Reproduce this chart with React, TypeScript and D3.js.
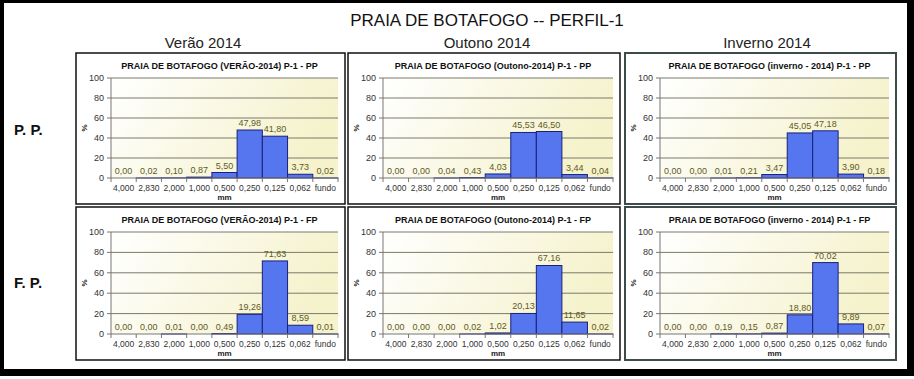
import React from "react";
import * as d3 from "d3";

const categories = ["4,000", "2,830", "2,000", "1,000", "0,500", "0,250", "0,125", "0,062", "fundo"];
const seasons = ["Verão 2014", "Outono 2014", "Inverno 2014"];
const rowLabels = ["P. P.", "F. P."];
const mainTitle = "PRAIA DE BOTAFOGO -- PERFIL-1";
const panelTitles = [
  "PRAIA DE BOTAFOGO (VERÃO-2014) P-1 - PP",
  "PRAIA DE BOTAFOGO (Outono-2014) P-1 - PP",
  "PRAIA DE BOTAFOGO (inverno - 2014) P-1 - PP",
  "PRAIA DE BOTAFOGO (VERÃO-2014) P-1 - FP",
  "PRAIA DE BOTAFOGO (Outono-2014) P-1 - FP",
  "PRAIA DE BOTAFOGO (inverno - 2014) P-1 - FP",
];
const veraoPP = [0.0, 0.02, 0.1, 0.87, 5.5, 47.98, 41.8, 3.73, 0.02];
const outonoPP = [0.0, 0.0, 0.04, 0.43, 4.03, 45.53, 46.5, 3.44, 0.04];
const invernoPP = [0.0, 0.0, 0.01, 0.21, 3.47, 45.05, 47.18, 3.9, 0.18];
const veraoFP = [0.0, 0.0, 0.01, 0.0, 0.49, 19.26, 71.63, 8.59, 0.01];
const outonoFP = [0.0, 0.0, 0.0, 0.02, 1.02, 20.13, 67.16, 11.65, 0.02];
const invernoFP = [0.0, 0.0, 0.19, 0.15, 0.87, 18.8, 70.02, 9.89, 0.07];
const panelValues = [veraoPP, outonoPP, invernoPP, veraoFP, outonoFP, invernoFP];
const yTicks = [0, 20, 40, 60, 80, 100];

const W = 914;
const H = 379;
const FONT = "'Liberation Sans', Arial, sans-serif";
const colX: [number, number][] = [[76, 345], [348, 620], [625, 896]];
const rowY: [number, number][] = [[53, 204], [207, 360]];
const M = { left: 35, right: 7, top: 25, bottom: 26 };
const fmt = (v: number) => d3.format(".2f")(v).replace(".", ",");

function Panel({ idx }: { idx: number }) {
  const col = idx % 3;
  const row = Math.floor(idx / 3);
  const [x0, x1] = colX[col];
  const [y0, y1] = rowY[row];
  const values = panelValues[idx];
  const px0 = x0 + M.left;
  const px1 = x1 - M.right;
  const py0 = y0 + M.top;
  const py1 = y1 - M.bottom;
  const x = d3.scaleBand<string>().domain(categories).range([px0, px1]).padding(0);
  const y = d3.scaleLinear().domain([0, 100]).range([py1, py0]);
  const slate = col === 2;
  return (
    <g>
      <rect x={x0} y={y0} width={x1 - x0} height={y1 - y0} fill="#fff"
        stroke={slate ? "#3e4b4b" : "#111"} strokeWidth={slate ? 2 : 1.5} />
      <text x={(x0 + x1) / 2 + 9} y={y0 + 16} textAnchor="middle" fontFamily={FONT}
        fontWeight="bold" fontSize={9} fill="#111">{panelTitles[idx]}</text>
      <rect x={px0} y={py0} width={px1 - px0} height={py1 - py0} fill="url(#plotbg)" />
      {yTicks.slice(1).map((t) => (
        <line key={t} x1={px0} x2={px1} y1={y(t)} y2={y(t)} stroke="#7a7a6a" strokeWidth={1} />
      ))}
      {values.map((v, i) => (
        <rect key={i} x={x(categories[i])!} y={y(v)} width={x.bandwidth()} height={py1 - y(v)}
          fill="#5676f0" stroke="#1a2078" strokeWidth={1} />
      ))}
      {values.map((v, i) => (
        <text key={"l" + i} x={x(categories[i])! + x.bandwidth() / 2} y={y(v) - 4}
          textAnchor="middle" fontFamily={FONT} fontSize={9} fill="#5f5a25">{fmt(v)}</text>
      ))}
      <line x1={px0} x2={px0} y1={py0} y2={py1} stroke="#777" />
      <line x1={px0} x2={px1} y1={py1} y2={py1} stroke="#777" />
      {yTicks.map((t) => (
        <g key={"yt" + t}>
          <line x1={px0 - 4} x2={px0} y1={y(t)} y2={y(t)} stroke="#777" />
          <text x={px0 - 7} y={y(t) + 3} textAnchor="end" fontFamily={FONT} fontSize={9} fill="#333">{t}</text>
        </g>
      ))}
      {categories.map((c, i) => (
        <g key={"xt" + i}>
          <line x1={x(c)!} x2={x(c)!} y1={py1} y2={py1 + 4} stroke="#777" />
          <text x={x(c)! + x.bandwidth() / 2} y={py1 + 13} textAnchor="middle" fontFamily={FONT}
            fontSize={8.5} fill="#333">{c}</text>
        </g>
      ))}
      <line x1={px1} x2={px1} y1={py1} y2={py1 + 4} stroke="#777" />
      <text x={(px0 + px1) / 2} y={py1 + 22} textAnchor="middle" fontFamily={FONT} fontSize={8}
        fontWeight="bold" fill="#222">mm</text>
      <text transform={`translate(${x0 + 11},${(py0 + py1) / 2}) rotate(-90)`} textAnchor="middle"
        fontFamily={FONT} fontSize={8} fontWeight="bold" fill="#222">%</text>
    </g>
  );
}

export default function App() {
  return (
    <svg width={W} height={H} style={{ position: "absolute", left: 0, top: 0, background: "#fff" }}>
      <defs>
        <linearGradient id="plotbg" x1="0" y1="0" x2="1" y2="0.3">
          <stop offset="0%" stopColor="#ffffff" />
          <stop offset="100%" stopColor="#f5f2cc" />
        </linearGradient>
      </defs>
      <rect x={0} y={0} width={W} height={H} fill="#fff" />
      <rect x={0} y={0} width={W} height={3} fill="#000" />
      <rect x={0} y={0} width={4} height={376} fill="#000" />
      <rect x={907} y={0} width={7} height={376} fill="#000" />
      <rect x={0} y={369} width={914} height={7} fill="#000" />
      <text x={487} y={26} textAnchor="middle" fontFamily={FONT} fontSize={17} fill="#111">{mainTitle}</text>
      {seasons.map((s, i) => (
        <text key={s} x={[203, 487, 767][i]} y={48} textAnchor="middle" fontFamily={FONT}
          fontSize={15} fill="#222">{s}</text>
      ))}
      {rowLabels.map((r, i) => (
        <text key={r} x={14} y={[135, 288][i]} fontFamily={FONT} fontSize={15} fontWeight="bold"
          fill="#111">{r}</text>
      ))}
      {panelValues.map((_, i) => (
        <Panel key={i} idx={i} />
      ))}
    </svg>
  );
}
